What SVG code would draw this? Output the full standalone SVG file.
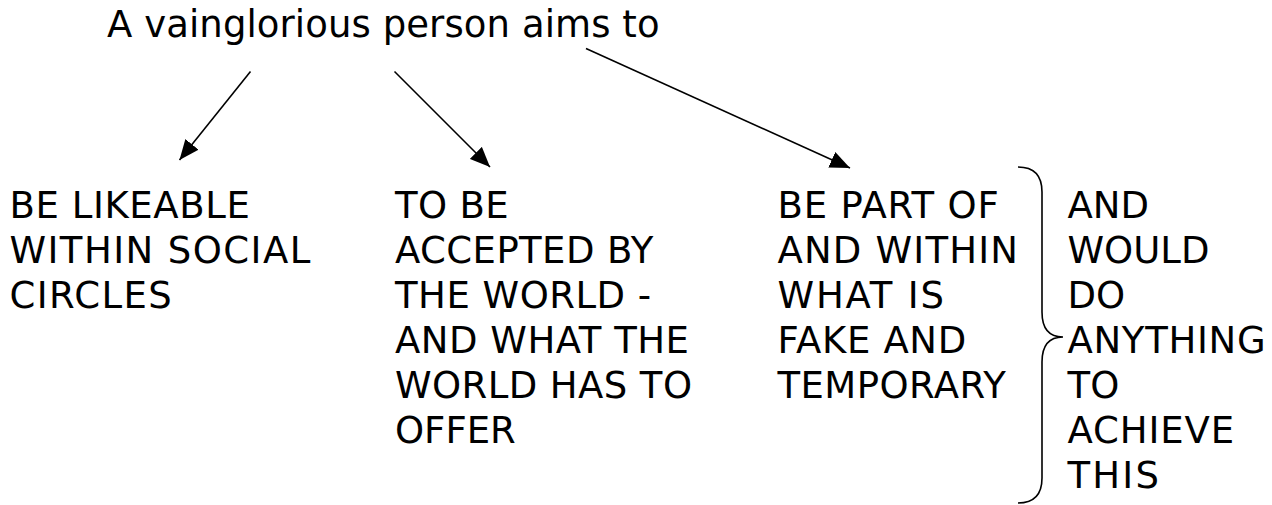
<svg xmlns="http://www.w3.org/2000/svg" width="1272" height="505" viewBox="0 0 1272 505">
  <style>
    .t { font-family: "DejaVu Sans", Verdana, sans-serif; font-size: 37px; fill: #000; }
    .c { stroke: #000; stroke-width: 1.6; fill: none; }
  </style>
  <defs>
    <marker id="ah" viewBox="0 0 20 17" refX="20" refY="8.5" markerWidth="20" markerHeight="17" markerUnits="userSpaceOnUse" orient="auto">
      <path d="M0,0 L20,8.5 L0,17 Z" fill="#000"/>
    </marker>
  </defs>
  <rect width="1272" height="505" fill="#fff"/>
  <g id="title">
    <text class="t" x="107" y="37" textLength="552.6" lengthAdjust="spacing">A vainglorious person aims to</text>
  </g>
  <g id="connectors">
    <line class="c" x1="250.5" y1="71.5" x2="179.5" y2="160" marker-end="url(#ah)"/>
    <line class="c" x1="394.5" y1="71.5" x2="490" y2="167" marker-end="url(#ah)"/>
    <line class="c" x1="586" y1="48.5" x2="850" y2="168" marker-end="url(#ah)"/>
  </g>
  <g id="node1">
    <text class="t" x="9.5" y="218" textLength="240.3" lengthAdjust="spacing">BE LIKEABLE</text>
    <text class="t" x="9.5" y="263" textLength="300.8" lengthAdjust="spacing">WITHIN SOCIAL</text>
    <text class="t" x="9.5" y="308" textLength="162.3" lengthAdjust="spacing">CIRCLES</text>
  </g>
  <g id="node2">
    <text class="t" x="395" y="218" textLength="113.7" lengthAdjust="spacing">TO BE</text>
    <text class="t" x="395" y="263" textLength="258.4" lengthAdjust="spacing">ACCEPTED BY</text>
    <text class="t" x="395" y="308" textLength="256.2" lengthAdjust="spacing">THE WORLD -</text>
    <text class="t" x="395" y="353" textLength="294.0" lengthAdjust="spacing">AND WHAT THE</text>
    <text class="t" x="395" y="398" textLength="297.0" lengthAdjust="spacing">WORLD HAS TO</text>
    <text class="t" x="395" y="443" textLength="120.8" lengthAdjust="spacing">OFFER</text>
  </g>
  <g id="node3">
    <text class="t" x="777.5" y="218" textLength="221.3" lengthAdjust="spacing">BE PART OF</text>
    <text class="t" x="777.5" y="263" textLength="240.5" lengthAdjust="spacing">AND WITHIN</text>
    <text class="t" x="777.5" y="308" textLength="166.5" lengthAdjust="spacing">WHAT IS</text>
    <text class="t" x="777.5" y="353" textLength="188.7" lengthAdjust="spacing">FAKE AND</text>
    <text class="t" x="777.5" y="398" textLength="228.3" lengthAdjust="spacing">TEMPORARY</text>
  </g>
  <g id="brace">
    <path class="c" d="M1018,167 Q1042,167 1042,192 L1042,312 Q1042,337 1063,337 Q1042,337 1042,362 L1042,478 Q1042,503 1018,503"/>
  </g>
  <g id="node4">
    <text class="t" x="1067.5" y="218" textLength="81.5" lengthAdjust="spacing">AND</text>
    <text class="t" x="1067.5" y="263" textLength="141.9" lengthAdjust="spacing">WOULD</text>
    <text class="t" x="1067.5" y="308" textLength="57.6" lengthAdjust="spacing">DO</text>
    <text class="t" x="1067.5" y="353" textLength="198.1" lengthAdjust="spacing">ANYTHING</text>
    <text class="t" x="1067.5" y="398" textLength="51.9" lengthAdjust="spacing">TO</text>
    <text class="t" x="1067.5" y="443" textLength="166.6" lengthAdjust="spacing">ACHIEVE</text>
    <text class="t" x="1067.5" y="488" textLength="91.5" lengthAdjust="spacing">THIS</text>
  </g>
</svg>
